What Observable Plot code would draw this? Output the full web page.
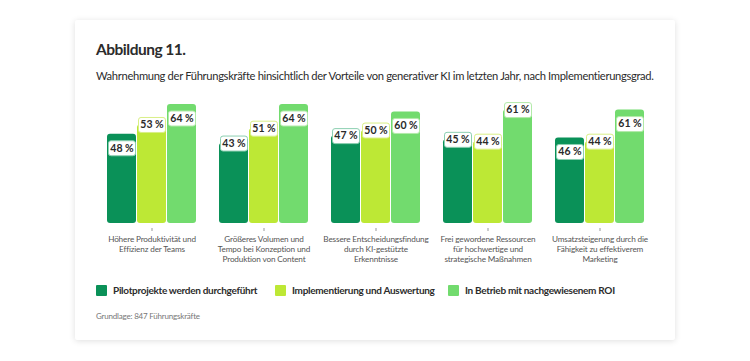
<!DOCTYPE html>
<html><head><meta charset="utf-8">
<script src="https://cdn.jsdelivr.net/npm/d3@7"></script>
<script src="https://cdn.jsdelivr.net/npm/@observablehq/plot@0.6"></script>
<style>
html,body{margin:0;padding:0;background:#fff;width:750px;height:361px;overflow:hidden;font-family:Lato,"Open Sans",sans-serif;}
#card{position:absolute;left:75px;top:20px;width:600px;height:320px;background:#fff;box-shadow:0 1px 6px rgba(0,0,0,0.13);border-radius:2px;}
#title{position:absolute;left:96px;top:40px;font-size:15.5px;font-weight:700;color:#2c2c2c;letter-spacing:-0.5px;}
#subtitle{position:absolute;left:96px;top:69px;font-size:11.2px;color:#2c2c2c;letter-spacing:-0.33px;white-space:nowrap;}
#chart{position:absolute;left:0;top:95px;}
#chart g[aria-label="fx-axis tick label"] text{letter-spacing:-0.15px;}
#legend{position:absolute;left:0;top:284px;width:750px;height:16px;}
.li{position:absolute;top:0;font-size:10px;font-weight:700;color:#2c2c2c;line-height:13px;white-space:nowrap;letter-spacing:-0.3px;}
.sw{display:inline-block;width:11px;height:11px;border-radius:1px;vertical-align:-2px;margin-right:6px;}
#foot{position:absolute;left:96px;top:311px;font-size:8px;color:#777;letter-spacing:-0.2px;}
</style></head>
<body>
<div id="card"></div>
<div id="title">Abbildung 11.</div>
<div id="subtitle">Wahrnehmung der Führungskräfte hinsichtlich der Vorteile von generativer KI im letzten Jahr, nach Implementierungsgrad.</div>
<div id="chart"></div>
<div id="legend"></div>
<div id="foot">Grundlage: 847 Führungskräfte</div>
<script>
const categories = [
  "Höhere Produktivität und\nEffizienz der Teams",
  "Größeres Volumen und\nTempo bei Konzeption und\nProduktion von Content",
  "Bessere Entscheidungsfindung\ndurch KI-gestützte\nErkenntnisse",
  "Frei gewordene Ressourcen\nfür hochwertige und\nstrategische Maßnahmen",
  "Umsatzsteigerung durch die\nFähigkeit zu effektiverem\nMarketing"
];
const seriesNames = [
  "Pilotprojekte werden durchgeführt",
  "Implementierung und Auswertung",
  "In Betrieb mit nachgewiesenem ROI"
];
const pilot = [48, 43, 47, 45, 46];
const implementierung = [53, 51, 50, 44, 44];
const betrieb = [64, 64, 60, 61, 61];

const colors = ["#0a9158", "#bde835", "#72db6e"];
const borderColors = ["#8ccfb1", "#d9ef86", "#b2eaa9"];
// label placement per category/series (1 = inside the bar, 0 = straddling the bar top)
const labelInside = [[1,0,1],[0,0,1],[0,0,1],[0,0,0],[1,0,1]];

const seriesValues = [pilot, implementierung, betrieb];
const data = [];
categories.forEach((c, i) => {
  seriesNames.forEach((s, j) => {
    data.push({category: c, series: s, value: seriesValues[j][i], si: j, inside: labelInside[i][j]});
  });
});
const topLabels = data.filter(d => !d.inside);
const insideLabels = data.filter(d => d.inside);

const boxSymbol = {
  draw(ctx) {
    const w = 27, h = 15, r = 2.5;
    const x0 = -w/2, y0 = -h/2, x1 = w/2, y1 = h/2;
    ctx.moveTo(x0 + r, y0);
    ctx.lineTo(x1 - r, y0);
    ctx.arcTo(x1, y0, x1, y0 + r, r);
    ctx.lineTo(x1, y1 - r);
    ctx.arcTo(x1, y1, x1 - r, y1, r);
    ctx.lineTo(x0 + r, y1);
    ctx.arcTo(x0, y1, x0, y1 - r, r);
    ctx.lineTo(x0, y0 + r);
    ctx.arcTo(x0, y0, x0 + r, y0, r);
    ctx.closePath();
  }
};

const labelMarks = (rows, dy) => [
  Plot.dot(rows, {fx: "category", x: "series", y: "value", dy, symbol: boxSymbol, r: 5, fill: "white", stroke: d => borderColors[d.si], strokeWidth: 1}),
  Plot.text(rows, {fx: "category", x: "series", y: "value", dy, text: d => d.value + " %", fontSize: 10.5, fontWeight: 700, fill: "#2a2a2a"})
];

const chart = Plot.plot({
  width: 750,
  height: 175,
  marginLeft: 104,
  marginRight: 104,
  marginTop: 9,
  marginBottom: 47,
  style: {fontFamily: "Lato, 'Open Sans', sans-serif", background: "transparent"},
  fx: {domain: categories, paddingInner: 0.17, paddingOuter: 0, label: null},
  x: {domain: seriesNames, padding: 0.04, axis: null},
  y: {domain: [0, 64], axis: null},
  color: {domain: seriesNames, range: colors},
  marks: [
    Plot.barY(data, {fx: "category", x: "series", y: "value", fill: "series", rx: 3}),
    ...labelMarks(topLabels, 0),
    ...labelMarks(insideLabels, 14),
    Plot.axisFx({anchor: "bottom", tickSize: 3, tickPadding: 3, dy: 5, fontSize: 8.2, lineHeight: 1.25, color: "#555", stroke: "#999", label: null})
  ]
});
document.getElementById("chart").appendChild(chart);

const legend = document.getElementById("legend");
const legendX = [96, 275, 448];
seriesNames.forEach((s, j) => {
  const el = document.createElement("div");
  el.className = "li";
  el.style.left = legendX[j] + "px";
  el.innerHTML = `<span class="sw" style="background:${colors[j]}"></span>${s}`;
  legend.appendChild(el);
});
</script>
</body></html>
